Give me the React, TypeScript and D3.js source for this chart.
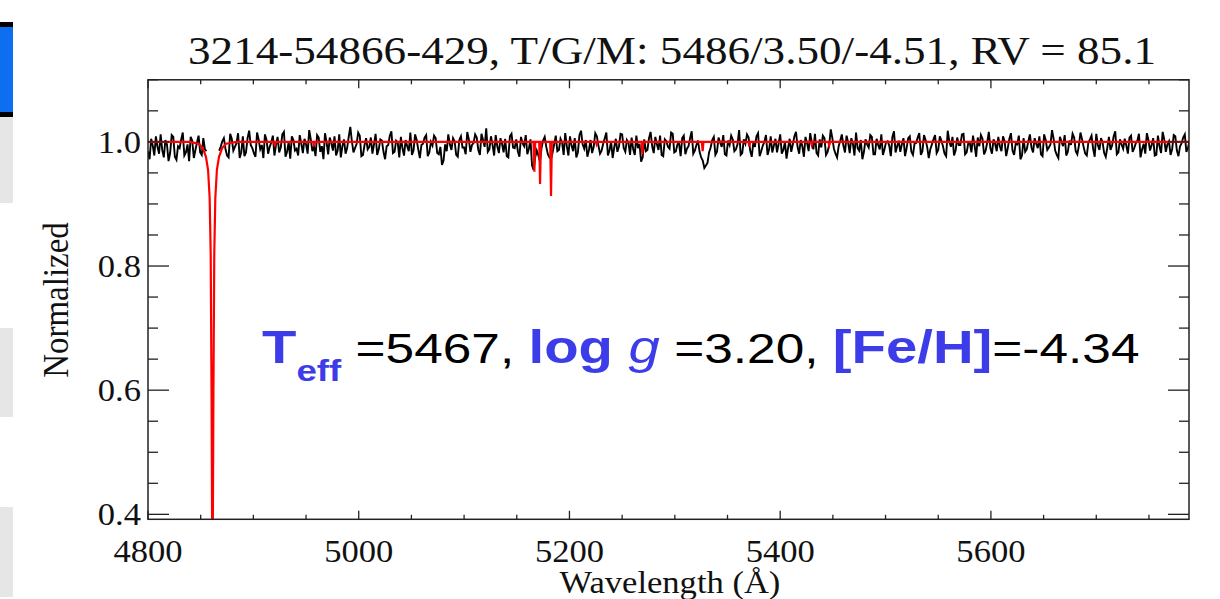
import React from "react";
import * as d3 from "d3";

// ---- data ----
const titleText = "3214-54866-429, T/G/M: 5486/3.50/-4.51, RV = 85.1";
const xTickLabels = [4800, 5000, 5200, 5400, 5600];
const yTickLabels = [0.4, 0.6, 0.8, 1.0];
const xDomain = [4800, 5788];
const yDomain = [0.392, 1.1];

// observed spectrum: samples at 4800 + 3i Å (null = masked)
const obsStart = 4800;
const obsStep = 3;
const obsFlux: (number | null)[] = [
  0.985, 1.005, 0.978, 0.992, 1.012, 0.975, 0.996, 0.982, 1.008, 0.971,
  0.990, 1.015, 0.983, 0.969, 1.002, 0.987, 1.010, 0.979, 0.988, null,
  null, null, null, 0.992, 1.006, 0.978, 1.013, 0.986, 0.998, 0.974,
  1.009, 0.983, 1.018, 0.990, 0.976, 1.004, 0.995, 1.012, 0.981, 0.999,
  0.978, 1.008, 0.991, 1.016, 0.984, 0.973, 1.003, 0.989, 1.011, 0.982,
  0.996, 1.019, 0.985, 0.977, 1.007, 0.993, 1.014, 0.980, 0.998, 1.009,
  0.986, 0.975, 1.004, 0.990, 1.024, 0.983, 0.997, 1.010, 0.979, 1.006,
  0.992, 0.981, 1.013, 0.988, 1.002, 0.972, 0.995, 1.017, 0.984, 0.999,
  1.008, 0.978, 0.993, 1.015, 0.986, 1.003, 0.974, 0.997, 1.011, 0.983,
  0.994, 1.006, 0.980, 0.963, 0.996, 1.012, 0.987, 1.001, 0.976, 1.009,
  0.991, 1.016, 0.984, 0.998, 1.007, 0.979, 1.003, 1.022, 0.988, 0.995,
  1.011, 0.982, 0.997, 1.005, 0.975, 1.013, 0.990, 0.985, 1.008, 0.993,
  0.980, 1.004, 0.955, 0.986, 0.968, 1.002, 0.992, 0.975, 0.983, 1.010,
  0.987, 0.999, 1.014, 0.978, 0.994, 1.006, 0.983, 1.018, 0.989, 0.976,
  1.003, 0.992, 1.009, 0.981, 0.997, 1.015, 0.986, 0.974, 1.005, 0.993,
  1.012, 0.984, 0.999, 1.007, 0.979, 0.990, 0.968, 1.004, 0.987, 1.016,
  0.982, 0.996, 1.010, 0.977, 1.001, 0.989, 1.013, 0.985, 0.998, 1.006,
  0.980, 0.993, 1.017, 0.986, 1.002, 0.975, 0.958, 0.966, 0.991, 1.008,
  0.984, 0.999, 1.011, 0.978, 0.995, 1.004, 0.988, 1.019, 0.982, 0.997,
  1.007, 0.976, 0.992, 1.014, 0.985, 1.000, 0.979, 1.009, 0.994, 0.983,
  1.012, 0.987, 0.973, 1.005, 0.996, 1.016, 0.981, 0.993, 1.008, 0.985,
  0.999, 1.013, 0.978, 0.991, 1.006, 0.984, 1.020, 0.989, 0.975, 1.002,
  0.994, 1.010, 0.982, 0.997, 1.015, 0.986, 0.972, 1.004, 0.991, 1.008,
  0.980, 0.995, 1.012, 0.988, 1.001, 0.977, 1.017, 0.993, 0.984, 1.006,
  0.990, 1.009, 0.979, 0.998, 1.014, 0.985, 1.003, 0.974, 0.996, 1.011,
  0.987, 1.002, 0.981, 1.018, 0.992, 0.978, 1.007, 0.995, 1.013, 0.983,
  0.998, 1.010, 0.976, 0.993, 1.005, 0.986, 1.016, 0.981, 0.997, 1.008,
  0.985, 1.001, 0.990, 1.014, 0.979, 0.996, 0.972, 1.006, 0.988, 1.012,
  0.983, 0.997, 1.009, 0.977, 1.003, 0.991, 1.019, 0.986, 0.974, 1.000,
  1.011, 0.984, 0.995, 1.007, 0.980, 1.015, 0.992, 0.978, 1.004, 0.989,
  1.013, 0.987, 0.999, 0.976, 1.008, 0.994, 1.017, 0.983, 0.996, 1.005,
  0.981, 1.010, 0.990, 1.002, 0.975, 0.997, 1.014, 0.986, 1.006, 0.979,
  0.993, 1.016, 0.984, 1.001, 0.988, 1.009, 0.977, 0.998, 1.012, 0.990,
];
// observed spectrum: samples at 4801.5 + 3i Å (null = masked)
const obsFluxMid: (number | null)[] = [
  0.972, 0.994, 1.009, 0.981, 0.987, 1.003, 0.969, 1.011, 0.976, 0.993,
  1.004, 0.978, 0.996, 1.008, 0.974, 0.999, 0.983, 1.006, 0.985, null,
  null, null, 0.986, 1.001, 0.989, 0.975, 1.005, 0.992, 1.014, 0.983,
  0.977, 1.006, 0.995, 0.982, 1.015, 0.988, 0.974, 1.003, 0.992, 1.010,
  0.995, 0.983, 1.012, 0.976, 1.000, 1.009, 0.986, 0.978, 0.997, 1.005,
  0.981, 1.004, 0.993, 1.011, 0.984, 0.972, 0.999, 1.007, 0.986, 0.978,
  1.012, 0.993, 0.981, 1.008, 1.001, 0.990, 1.015, 0.977, 0.995, 0.988,
  1.007, 0.996, 0.979, 1.004, 0.984, 0.993, 1.010, 0.982, 1.002, 0.975,
  0.990, 1.003, 0.985, 0.979, 1.012, 0.988, 0.995, 1.007, 0.977, 1.000,
  1.010, 0.982, 0.992, 0.970, 0.985, 0.996, 1.006, 0.979, 1.003, 0.991,
  0.980, 1.004, 0.995, 1.012, 0.987, 1.013, 0.992, 0.984, 1.009, 0.978,
  0.993, 1.006, 0.983, 0.977, 1.009, 0.991, 1.004, 0.976, 0.998, 1.011,
  0.989, 0.962, 0.975, 0.978, 0.990, 1.008, 0.980, 0.972, 0.996, 0.985,
  1.005, 0.979, 0.993, 1.009, 0.985, 0.975, 1.011, 0.996, 1.003, 0.987,
  0.982, 1.014, 0.994, 0.986, 1.006, 0.978, 1.001, 0.991, 0.984, 1.013,
  0.990, 1.003, 0.979, 0.988, 1.010, 0.997, 0.975, 0.985, 1.006, 0.993,
  1.008, 0.987, 0.979, 1.004, 0.992, 1.015, 0.983, 0.996, 0.977, 1.010,
  0.989, 1.006, 0.981, 0.995, 0.984, 0.970, 0.962, 0.983, 1.003, 0.979,
  1.007, 0.992, 0.980, 1.002, 1.010, 0.985, 0.996, 0.979, 1.004, 1.012,
  0.986, 0.999, 1.009, 0.977, 0.994, 1.011, 0.988, 0.983, 1.005, 0.997,
  0.981, 1.000, 0.990, 0.984, 1.009, 0.992, 1.003, 0.976, 0.998, 1.014,
  0.988, 0.982, 1.004, 1.010, 0.979, 0.995, 1.006, 0.981, 0.993, 1.012,
  0.983, 0.999, 1.006, 0.978, 0.990, 1.003, 0.984, 0.996, 1.011, 0.980,
  1.005, 0.988, 0.979, 1.000, 0.994, 1.008, 0.983, 1.002, 0.996, 0.977,
  1.006, 0.984, 0.997, 1.007, 0.979, 1.011, 0.992, 0.988, 1.004, 0.982,
  1.009, 0.993, 0.977, 1.001, 1.008, 0.986, 0.995, 1.012, 0.980, 0.998,
  0.983, 0.994, 1.007, 1.011, 0.980, 0.999, 0.990, 1.004, 0.985, 0.993,
  1.009, 0.977, 1.005, 0.986, 0.997, 1.010, 0.978, 0.984, 1.001, 0.991,
  1.006, 0.990, 0.980, 1.012, 0.987, 0.996, 1.005, 0.979, 1.008, 0.993,
  0.978, 1.002, 1.013, 0.985, 0.994, 1.004, 0.981, 0.999, 1.010, 0.976,
  0.995, 1.006, 0.982, 0.991, 0.987, 1.009, 0.980, 1.004, 0.989, 0.994,
  1.007, 0.984, 0.998, 1.013, 0.988, 0.981, 1.003, 0.995, 0.978, 1.010,
  0.982, 1.004, 0.996, 0.979, 1.011, 0.986, 0.993, 1.007, 0.984, 1.002,
];

// best-fit synthetic model
const modelWave = [
  4800, 4840, 4848, 4852, 4855, 4857, 4858.5, 4859.5, 4860.3, 4861.2, 4862.1,
  4862.9, 4863.9, 4865.4, 4867.4, 4870.4, 4874, 4884,
  4919.7, 4920.5, 4921.3, 4956.8, 4957.6, 4958.4,
  5165.9, 5166.7, 5167.5, 5171.3, 5172.1, 5172.9, 5181.7, 5182.5, 5183.3,
  5225.0, 5225.8, 5226.6, 5268.4, 5269.2, 5270.0, 5325.6, 5326.4, 5327.2,
  5369.9, 5370.7, 5371.5, 5429.2, 5430.0, 5430.8, 5445.7, 5446.5, 5447.3, 5788,
];
const modelFlux = [
  1.0, 1.0, 0.997, 0.99, 0.976, 0.955, 0.91, 0.82, 0.6, 0.25, 0.6,
  0.82, 0.91, 0.955, 0.976, 0.99, 0.997, 1.0,
  1.0, 0.993, 1.0, 1.0, 0.993, 1.0,
  1.0, 0.952, 1.0, 1.0, 0.932, 1.0, 1.0, 0.913, 1.0,
  1.0, 0.996, 1.0, 1.0, 0.98, 1.0, 1.0, 0.985, 1.0,
  1.0, 0.993, 1.0, 1.0, 0.995, 1.0, 1.0, 0.995, 1.0, 1.0,
];

const W = 1220;
const H = 599;
const L = 148, R = 1189, T = 79.8, B = 519.3;
const serif = "'Liberation Serif', 'Times New Roman', serif";
const sans = "'Liberation Sans', Arial, Helvetica, sans-serif";
const annBlue = "#3c3ce8";
const SX = 1.08;

export default function App() {
  const x = d3.scaleLinear().domain(xDomain).range([L, R]);
  const y = d3.scaleLinear().domain(yDomain).range([B, T]);

  const obs: [number, number | null][] = [];
  obsFlux.forEach((f, i) => {
    obs.push([obsStart + i * obsStep, f]);
    obs.push([obsStart + i * obsStep + obsStep / 2, obsFluxMid[i]]);
  });
  const obsLine = d3
    .line<[number, number | null]>()
    .defined((d) => d[1] !== null)
    .x((d) => x(d[0]))
    .y((d) => y(d[1] as number));
  const model = modelWave.map((w, i) => [w, modelFlux[i]] as [number, number]);
  const modelLine = d3
    .line<[number, number]>()
    .x((d) => x(d[0]))
    .y((d) => y(d[1]));

  const xMinor = d3.range(4850, 5788, 50).filter((v) => v % 200 !== 0);
  const yMinor = d3.range(0.45, 1.101, 0.05).filter(
    (v) => !yTickLabels.some((m) => Math.abs(m - v) < 1e-6)
  );

  return (
    <svg
      width={W}
      height={H}
      style={{ position: "absolute", left: 0, top: 0, background: "#fff" }}
    >
      <defs>
        <clipPath id="plotclip">
          <rect x={L} y={T} width={R - L} height={B - T} />
        </clipPath>
      </defs>

      {/* left UI strip */}
      <rect x={0} y={22} width={13} height={5} fill="#000" />
      <rect x={0} y={27} width={13} height={85} fill="#0d6ef0" />
      <rect x={0} y={112} width={13} height={5} fill="#000" />
      <rect x={0} y={117} width={13} height={86} fill="#e6e6e6" />
      <rect x={0} y={328} width={13} height={89} fill="#e6e6e6" />
      <rect x={0} y={507} width={13} height={90} fill="#e6e6e6" />

      {/* title */}
      <text
        x={672}
        y={64}
        textAnchor="middle"
        fontFamily={serif}
        fontSize={40}
        textLength={968}
        lengthAdjust="spacingAndGlyphs"
        fill="#111"
      >
        {titleText}
      </text>

      {/* spectra */}
      <g clipPath="url(#plotclip)">
        <path d={obsLine(obs) || ""} fill="none" stroke="#000" strokeWidth={1.9} />
        <path d={modelLine(model) || ""} fill="none" stroke="#ff0000" strokeWidth={2.2} />
      </g>

      {/* frame */}
      <rect x={L} y={T} width={R - L} height={B - T} fill="none" stroke="#222" strokeWidth={1.5} />

      {/* x ticks */}
      {xTickLabels.map((v) => (
        <g key={"xM" + v}>
          <line x1={x(v)} x2={x(v)} y1={B} y2={B - 8.5} stroke="#222" strokeWidth={1.3} />
          <line x1={x(v)} x2={x(v)} y1={T} y2={T + 8.5} stroke="#222" strokeWidth={1.3} />
          <text
            transform={`translate(${x(v)},${561.7}) scale(${SX},1)`}
            textAnchor="middle"
            fontFamily={serif}
            fontSize={32}
            fill="#111"
          >
            {v}
          </text>
        </g>
      ))}
      {xMinor.map((v) => (
        <g key={"xm" + v}>
          <line x1={x(v)} x2={x(v)} y1={B} y2={B - 4.5} stroke="#222" strokeWidth={1.3} />
          <line x1={x(v)} x2={x(v)} y1={T} y2={T + 4.5} stroke="#222" strokeWidth={1.3} />
        </g>
      ))}

      {/* y ticks */}
      {yTickLabels.map((v) => (
        <g key={"yM" + v}>
          <line x1={L} x2={L + 21} y1={y(v)} y2={y(v)} stroke="#222" strokeWidth={1.3} />
          <line x1={R} x2={R - 21} y1={y(v)} y2={y(v)} stroke="#222" strokeWidth={1.3} />
          <text
            transform={`translate(${141},${y(v) + 11}) scale(${SX},1)`}
            textAnchor="end"
            fontFamily={serif}
            fontSize={32}
            fill="#111"
          >
            {v.toFixed(1)}
          </text>
        </g>
      ))}
      {yMinor.map((v) => (
        <g key={"ym" + v.toFixed(2)}>
          <line x1={L} x2={L + 10} y1={y(v)} y2={y(v)} stroke="#222" strokeWidth={1.3} />
          <line x1={R} x2={R - 10} y1={y(v)} y2={y(v)} stroke="#222" strokeWidth={1.3} />
        </g>
      ))}

      {/* axis titles */}
      <text
        transform={`translate(670,593) scale(${SX},1)`}
        textAnchor="middle"
        fontFamily={serif}
        fontSize={32}
        fill="#111"
      >
        Wavelength (Å)
      </text>
      <text
        transform={`translate(68,300) rotate(-90) scale(1,1.1)`}
        textAnchor="middle"
        fontFamily={serif}
        fontSize={33}
        fill="#111"
      >
        Normalized
      </text>

      {/* annotation */}
      <g transform="translate(262,363.3) scale(1.224,1)">
        <text fontFamily={sans} style={{ whiteSpace: "pre" }}>
          <tspan fill={annBlue} fontWeight="bold" fontSize={46}>T</tspan>
          <tspan fill={annBlue} fontWeight="bold" fontSize={30} dy={18}>eff</tspan>
          <tspan fill="#000" fontSize={42} dy={-18}> =5467, </tspan>
          <tspan fill={annBlue} fontWeight="bold" fontSize={46}>log </tspan>
          <tspan fill={annBlue} fontStyle="italic" fontSize={46}>g</tspan>
          <tspan fill="#000" fontSize={42}> =3.20, </tspan>
          <tspan fill={annBlue} fontWeight="bold" fontSize={46}>[Fe/H]</tspan>
          <tspan fill="#000" fontSize={42}>=-4.34</tspan>
        </text>
      </g>
    </svg>
  );
}
